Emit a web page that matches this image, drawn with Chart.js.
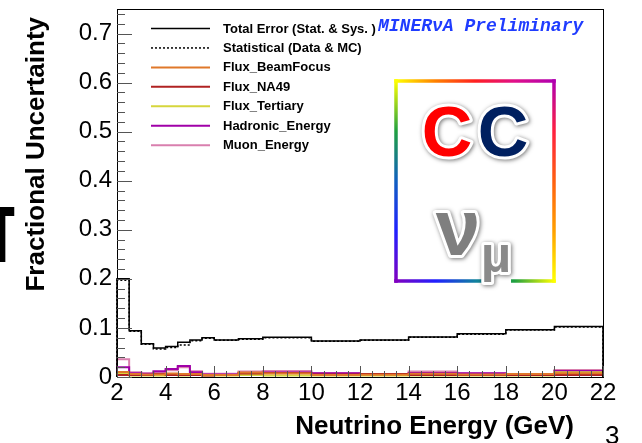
<!DOCTYPE html>
<html lang="en">
<head>
    <meta charset="UTF-8">
    <title>Fractional Uncertainty</title>
    <script src="https://cdn.jsdelivr.net/npm/chart.js"></script>
    <style>
        html, body { margin: 0; padding: 0; background: #fff; }
        #box { position: relative; width: 642px; height: 443px; }
    </style>
</head>
<body>
<div id="box"><canvas id="myChart" width="642" height="443"></canvas></div>

<script>
    // bin edges in GeV (17 bins)
    const binEdges = [2, 2.5, 3, 3.5, 4, 4.5, 5, 5.5, 6, 7, 8, 10, 12, 14, 16, 18, 20, 22];

    const totalError     = [0.200, 0.0945, 0.068, 0.059, 0.062, 0.071, 0.0755, 0.080, 0.0755, 0.078, 0.081, 0.0735, 0.0755, 0.0816, 0.088, 0.0965, 0.1027];
    const statError      = [0.197, 0.093, 0.067, 0.057, 0.060, 0.065, 0.074, 0.079, 0.075, 0.077, 0.080, 0.073, 0.075, 0.081, 0.087, 0.096, 0.102];
    const fluxBeamFocus  = [0.010, 0.006, 0.005, 0.005, 0.007, 0.006, 0.006, 0.004, 0.004, 0.009, 0.007, 0.004, 0.0045, 0.0065, 0.005, 0.006, 0.0075];
    const fluxNA49       = [0.004, 0.004, 0.004, 0.006, 0.004, 0.004, 0.004, 0.003, 0.004, 0.007, 0.008, 0.005, 0.006, 0.004, 0.004, 0.004, 0.004];
    const fluxTertiary   = [0.006, 0.003, 0.003, 0.003, 0.004, 0.003, 0.004, 0.003, 0.003, 0.004, 0.003, 0.003, 0.003, 0.003, 0.003, 0.003, 0.0095];
    const hadronicEnergy = [0.020, 0.0075, 0.0065, 0.0115, 0.0163, 0.0224, 0.0095, 0.005, 0.005, 0.008, 0.009, 0.0075, 0.0045, 0.008, 0.0075, 0.0045, 0.012];
    const muonEnergy     = [0.036, 0.0095, 0.0075, 0.010, 0.0136, 0.0197, 0.0115, 0.0065, 0.0065, 0.011, 0.012, 0.0075, 0.005, 0.011, 0.007, 0.005, 0.0143];

    const seriesLabels = ['Total Error (Stat. & Sys. )', 'Statistical (Data & MC)', 'Flux_BeamFocus',
                          'Flux_NA49', 'Flux_Tertiary', 'Hadronic_Energy', 'Muon_Energy'];

    const xTitle = 'Neutrino Energy (GeV)';
    const yTitle = 'Fractional Uncertainty';

    // histogram outline: rise at the first edge, one step per bin, drop at the last edge
    function histPoints(vals) {
        var pts = [{ x: binEdges[0], y: 0 }];
        for (var i = 0; i < vals.length; i++) pts.push({ x: binEdges[i], y: vals[i] });
        pts.push({ x: binEdges[binEdges.length - 1], y: vals[vals.length - 1] });
        pts.push({ x: binEdges[binEdges.length - 1], y: 0 });
        return pts;
    }

    function histSet(label, vals, color, width, dash) {
        return {
            label: label,
            data: histPoints(vals),
            borderColor: color,
            borderWidth: width,
            borderDash: dash || [],
            stepped: 'before',
            pointRadius: 0,
            fill: false,
            clip: 4
        };
    }

    const datasets = [
        histSet(seriesLabels[0], totalError, '#000000', 1.5),
        histSet(seriesLabels[1], statError, '#000000', 1.5, [2, 2]),
        histSet(seriesLabels[2], fluxBeamFocus, '#e0782a', 2),
        histSet(seriesLabels[3], fluxNA49, '#b02222', 2),
        histSet(seriesLabels[4], fluxTertiary, '#d6d63c', 2),
        histSet(seriesLabels[5], hadronicEnergy, '#a000a8', 2),
        histSet(seriesLabels[6], muonEnergy, '#d97fae', 2)
    ];

    // frame, inward ticks, legend, titles and the logo box
    const decor = {
        id: 'decor',
        afterDraw(chart) {
            const ctx = chart.ctx;
            const a = chart.chartArea;
            const xs = chart.scales.x, ys = chart.scales.y;
            ctx.save();

            // frame
            ctx.strokeStyle = '#000';
            ctx.lineWidth = 1;
            ctx.strokeRect(Math.round(a.left) + 0.5, Math.round(a.top) + 0.5,
                           Math.round(a.right - a.left), Math.round(a.bottom - a.top));

            // y ticks
            ctx.strokeStyle = '#555';
            for (var k = 0; k <= 37; k++) {
                var v = k * 0.02;
                if (v > ys.max) break;
                var py = Math.round(ys.getPixelForValue(v)) + 0.5;
                var len = (k % 5 === 0) ? 15 : 8;
                ctx.beginPath();
                ctx.moveTo(a.left, py);
                ctx.lineTo(a.left + len, py);
                ctx.stroke();
            }
            // x ticks
            for (var e = 2; e <= 22; e += 0.5) {
                var px = Math.round(xs.getPixelForValue(e)) + 0.5;
                var l2 = (e % 2 === 0) ? 11 : 6;
                ctx.beginPath();
                ctx.moveTo(px, a.bottom);
                ctx.lineTo(px, a.bottom - l2);
                ctx.stroke();
            }

            // legend
            ctx.textBaseline = 'middle';
            ctx.textAlign = 'left';
            ctx.font = 'bold 13px "Liberation Sans", Arial, sans-serif';
            chart.data.datasets.forEach(function (ds, i) {
                var ly = 28.5 + i * 19.45;
                ctx.strokeStyle = ds.borderColor;
                ctx.lineWidth = i < 2 ? 1.5 : 2;
                ctx.setLineDash(ds.borderDash);
                ctx.beginPath();
                ctx.moveTo(151, ly);
                ctx.lineTo(210, ly);
                ctx.stroke();
                ctx.setLineDash([]);
                ctx.fillStyle = '#000';
                ctx.fillText(ds.label, 223, ly + 0.5);
            });

            // experiment tag
            ctx.textBaseline = 'alphabetic';
            ctx.font = 'italic bold 18px "Liberation Mono", "DejaVu Sans Mono", monospace';
            ctx.fillStyle = '#1f3cff';
            ctx.fillText('MINERνA Preliminary', 378, 31);

            // logo box with rainbow border
            var L = 396, R = 554, T = 81, B = 281;
            function edge(x1, y1, x2, y2, stops) {
                var g = ctx.createLinearGradient(x1, y1, x2, y2);
                stops.forEach(function (c, j) { g.addColorStop(j / (stops.length - 1), c); });
                ctx.strokeStyle = g;
                ctx.lineWidth = 3.5;
                ctx.lineCap = 'square';
                ctx.beginPath();
                ctx.moveTo(x1, y1);
                ctx.lineTo(x2, y2);
                ctx.stroke();
            }
            edge(L, T, R, T, ['#ffff00', '#ff8000', '#ff2020', '#e0108a', '#b000b0']);
            edge(R, T, R, B, ['#b000b0', '#ff2040', '#ff6010', '#ffa000', '#ffff00']);
            edge(L, B, R, B, ['#8000c0', '#2020ff', '#1080a0', '#20a040', '#ffff00']);
            edge(L, T, L, B, ['#ffff00', '#20a040', '#1060c0', '#2020ff', '#8000c0']);

            function logoText(txt, x, y, font, color) {
                ctx.font = font;
                ctx.textAlign = 'center';
                ctx.lineJoin = 'round';
                ctx.shadowColor = 'rgba(0,0,0,0.55)';
                ctx.shadowBlur = 4;
                ctx.shadowOffsetX = 1;
                ctx.shadowOffsetY = 1;
                ctx.strokeStyle = '#fff';
                ctx.lineWidth = 6;
                ctx.strokeText(txt, x, y);
                ctx.shadowColor = 'transparent';
                ctx.fillStyle = color;
                ctx.fillText(txt, x, y);
            }
            logoText('C', 447, 156, 'bold 70px "Liberation Sans", Arial, sans-serif', '#ff0000');
            logoText('C', 503, 156, 'bold 70px "Liberation Sans", Arial, sans-serif', '#002060');
            logoText('ν', 458, 255, 'bold 80px "Liberation Sans", Arial, sans-serif', '#7f7f7f');
            ctx.fillStyle = '#fff';
            ctx.fillRect(482, 264, 29, 22);
            logoText('μ', 496, 272, 'bold 50px "Liberation Sans", Arial, sans-serif', '#8a8a8a');

            // axis titles
            ctx.shadowColor = 'transparent';
            ctx.fillStyle = '#000';
            ctx.font = 'bold 26px "Liberation Sans", Arial, sans-serif';
            ctx.textAlign = 'right';
            ctx.fillText(xTitle, 574, 434);
            ctx.save();
            ctx.translate(44, 17);
            ctx.rotate(-Math.PI / 2);
            ctx.textAlign = 'right';
            ctx.fillText(yTitle, 0, 0);
            ctx.restore();

            // slide fragments at the edges
            ctx.save();
            ctx.scale(0.5, 1);
            ctx.font = 'bold 80px "Liberation Sans", Arial, sans-serif';
            ctx.textAlign = 'center';
            ctx.fillText('T', 5, 262);
            ctx.restore();
            ctx.font = '26px "Liberation Sans", Arial, sans-serif';
            ctx.textAlign = 'left';
            ctx.fillText('3', 605, 444);

            ctx.restore();
        }
    };

    const config = {
        type: 'line',
        data: { datasets: datasets },
        options: {
            responsive: false,
            animation: false,
            layout: { padding: { left: 57, right: 39, top: 9, bottom: 0 } },
            plugins: { legend: { display: false }, tooltip: { enabled: false } },
            scales: {
                x: {
                    type: 'linear',
                    min: 2,
                    max: 22,
                    grid: { display: false, drawTicks: false },
                    border: { display: false },
                    ticks: {
                        stepSize: 2,
                        padding: 2,
                        color: '#000',
                        font: { family: '"Liberation Sans", Arial, sans-serif', size: 24 }
                    },
                    afterFit(scale) { scale.height = 66; }
                },
                y: {
                    type: 'linear',
                    min: 0,
                    max: 0.75,
                    grid: { display: false, drawTicks: false },
                    border: { display: false },
                    ticks: {
                        stepSize: 0.1,
                        includeBounds: false,
                        padding: 5,
                        color: '#000',
                        font: { family: '"Liberation Sans", Arial, sans-serif', size: 24 },
                        callback: function (v) {
                            if (v === 0) return '0';
                            return Math.abs(v * 10 - Math.round(v * 10)) < 1e-6 ? v.toFixed(1) : '';
                        }
                    },
                    afterFit(scale) {
                        scale.width = 60;
                        scale.paddingTop = 0;
                        scale.paddingBottom = 0;
                    }
                }
            }
        },
        plugins: [decor]
    };

    const myChart = new Chart(document.getElementById('myChart'), config);
</script>
</body>
</html>
